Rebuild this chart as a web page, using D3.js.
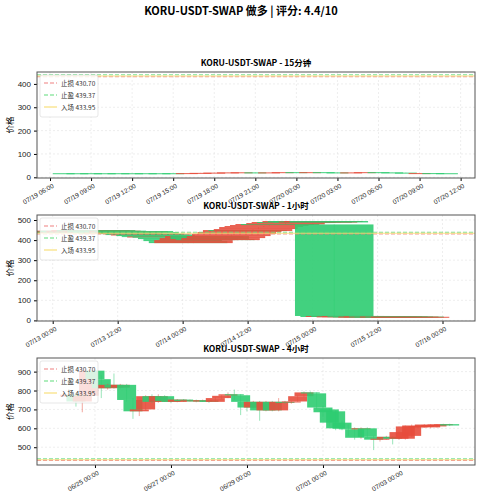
<!DOCTYPE html>
<html><head><meta charset="utf-8">
<script src="https://d3js.org/d3.v7.min.js"></script>
<style>body{margin:0;background:#fff;font-family:"Noto Sans CJK SC","DejaVu Sans",sans-serif}</style>
</head><body><div id="chart"></div>
<script>
var width = 482, height = 500;
var stopLoss = 430.70, takeProfit = 439.37, entry = 433.95;

// 15m panel (one candle per hour as read)
var p1Start = "2025-07-19T07:00";
var p1Open = [17.5,17.4,17.5,17.4,17.5,17.4,17.5,17.4,17.5, 17,18,19,20,21,21,20,21, 22,21,22,21,20,21,22,21, 20,18,18,17.5];
var p1Close = [17,17,17,17,17,17,17,17,17, 18,19,20,21,21.5,20,21,22, 21,22,21,20,21,22,21,20, 18,18,17.5,17];

// 1h panel
var p2Start = "2025-07-13T00:00";
var p2Close = [440,445,438,442,447,440, 445,450,443,447,440,435, 430,438,445,440,432,425, 428,420,415,418,412,405,
  395,385,400,410,420,405, 400,410,420,430,440,450, 445,455,465,470,475,480, 478,485,490,488,495,492,
  490,492,495,488,22, 21,22,20,20,21,20,19,19,20,19,18,19,18,18];
var p2Open = [438,440,445,438,442,447, 440,445,450,443,447,440, 435,430,438,445,440,432, 425,428,420,415,418,412,
  405,395,385,400,410,420, 405,400,410,420,430,440, 450,445,455,465,470,475, 480,478,485,490,488,495,
  492,490,492,495,478, 22,21,22,20,20,21,20,19,19,20,19,18,19,18];

// 4h panel
var p3Start = "2025-06-24T08:00";
var p3Open = [768,778,742,772,905,860,812,830,815,830,750,690,700,770,740,770,745,740,752,745,748,742,748,740,760,772,780,775,740,710,740,695,740,695,740,738,742,770,790,785,710,700,690,630,600,595,598,600,555,540,545,555,545,545,560,605,608,605,610,620,622];
var p3Close = [778,742,772,905,860,812,830,815,830,750,690,700,770,740,770,745,740,752,745,748,742,748,740,760,772,780,775,740,710,740,695,740,695,740,738,742,770,790,785,710,685,630,600,598,595,550,600,555,540,545,555,545,580,610,615,612,620,618,620,622,615];
var p3High = [785,790,780,910,910,880,835,890,835,835,760,705,775,780,780,775,755,755,755,752,752,752,750,765,775,790,805,780,745,745,745,745,745,760,745,745,775,795,795,790,720,705,695,640,620,605,605,605,560,548,560,560,585,615,620,615,622,622,622,624,624];
var p3Low = [760,715,685,768,855,760,805,810,810,740,650,665,695,735,735,740,735,738,740,742,738,740,735,740,755,760,750,670,690,705,640,690,690,690,730,730,740,765,770,700,660,610,590,590,560,540,545,550,485,530,540,515,540,540,555,600,605,600,605,615,612];

var parse = d3.timeParse("%Y-%m-%dT%H:%M");
var HOUR = 3600e3;

var svg = d3.select("#chart").append("svg").attr("width", width).attr("height", height);

svg.append("text").attr("x", 241).attr("y", 15).attr("text-anchor", "middle")
  .attr("font-size", 11).attr("font-weight", "bold").text("KORU-USDT-SWAP 做多 | 评分: 4.4/10");

function panel(cfg) {
  var x = d3.scaleTime().domain(cfg.xDomain).range([37, 475]);
  var y = d3.scaleLinear().domain(cfg.yDomain).range([cfg.bottom, cfg.top]);
  var g = svg.append("g");
  var clipId = "clip" + cfg.top;
  g.append("clipPath").attr("id", clipId).append("rect")
    .attr("x", 37).attr("y", cfg.top).attr("width", 438).attr("height", cfg.bottom - cfg.top);

  svg.append("text").attr("x", 256).attr("y", cfg.top - 6).attr("text-anchor", "middle")
    .attr("font-size", 8.5).attr("font-weight", "bold").text(cfg.title);

  // grid
  g.append("g").selectAll("line").data(cfg.yTicks).enter().append("line")
    .attr("x1", 37).attr("x2", 475).attr("y1", d => y(d)).attr("y2", d => y(d))
    .attr("stroke", "#ddd").attr("stroke-width", 0.5).attr("stroke-dasharray", "2,2");
  g.append("g").selectAll("line").data(cfg.xTicks).enter().append("line")
    .attr("y1", cfg.top).attr("y2", cfg.bottom).attr("x1", d => x(d)).attr("x2", d => x(d))
    .attr("stroke", "#ddd").attr("stroke-width", 0.5).attr("stroke-dasharray", "2,2");

  var t0 = parse(cfg.start);
  var data = cfg.open.map(function(o, i) {
    var c = cfg.close[i];
    return {t: new Date(+t0 + i * cfg.step * HOUR), o: o, c: c,
      h: cfg.high ? cfg.high[i] : Math.max(o, c), l: cfg.low ? cfg.low[i] : Math.min(o, c)};
  });
  var plot = g.append("g").attr("clip-path", "url(#" + clipId + ")");
  var half = cfg.bodyHours / 2 * HOUR;
  data.forEach(function(d) {
    var col = d.c >= d.o ? "#e74c3c" : "#2ecc71";
    var xc = x(d.t);
    plot.append("line").attr("x1", xc).attr("x2", xc).attr("y1", y(d.h)).attr("y2", y(d.l))
      .attr("stroke", col).attr("stroke-width", 0.8).attr("opacity", 0.6);
    var x0 = x(new Date(+d.t - half)), x1 = x(new Date(+d.t + half));
    var yt = y(Math.max(d.o, d.c)), yb = y(Math.min(d.o, d.c));
    plot.append("rect").attr("x", x0).attr("width", x1 - x0)
      .attr("y", yt).attr("height", Math.max(1, yb - yt)).attr("fill", col).attr("opacity", 0.9);
  });

  var lines = [
    {v: stopLoss, c: "#f08080", dash: "4,2", label: "止损 430.70"},
    {v: takeProfit, c: "#5fdc7a", dash: "4,2", label: "止盈 439.37"},
    {v: entry, c: "#f7dc6f", dash: null, label: "入场 433.95"}
  ];
  lines.forEach(function(l) {
    if (l.v < cfg.yDomain[0] || l.v > cfg.yDomain[1]) return;
    plot.append("line").attr("x1", 37).attr("x2", 475).attr("y1", y(l.v)).attr("y2", y(l.v))
      .attr("stroke", l.c).attr("stroke-width", 1.1).attr("stroke-dasharray", l.dash).attr("opacity", 0.8);
  });

  // legend
  var lg = g.append("g").attr("transform", "translate(40," + (cfg.top + 3) + ")");
  lg.append("rect").attr("width", 58).attr("height", 42).attr("rx", 2)
    .attr("fill", "#fff").attr("fill-opacity", 0.8).attr("stroke", "#ccc").attr("stroke-width", 0.5);
  lines.forEach(function(l, i) {
    var yy = 8 + i * 12;
    lg.append("line").attr("x1", 4).attr("x2", 17).attr("y1", yy).attr("y2", yy)
      .attr("stroke", l.c).attr("stroke-width", 1.1).attr("stroke-dasharray", l.dash);
    lg.append("text").attr("x", 21).attr("y", yy + 2.5).attr("font-size", 6.5).attr("fill", "#333").text(l.label);
  });

  // axes
  var ya = g.append("g").attr("transform", "translate(37,0)")
    .call(d3.axisLeft(y).tickValues(cfg.yTicks).tickSize(3).tickFormat(d3.format("d")));
  ya.selectAll("text").attr("font-size", 8).attr("fill", "#222");
  ya.select(".domain").remove();
  var xa = g.append("g").attr("transform", "translate(0," + cfg.bottom + ")")
    .call(d3.axisBottom(x).tickValues(cfg.xTicks).tickSize(3).tickFormat(d3.timeFormat(cfg.fmt)));
  xa.select(".domain").remove();
  xa.selectAll("text").attr("font-size", 6.5).attr("fill", "#222").attr("text-anchor", "end")
    .attr("transform", "rotate(-30)").attr("dx", "-0.2em").attr("dy", "0.6em");

  g.append("rect").attr("x", 37).attr("y", cfg.top).attr("width", 438).attr("height", cfg.bottom - cfg.top)
    .attr("fill", "none").attr("stroke", "#555").attr("stroke-width", 1);
  svg.append("text").attr("transform", "translate(13," + ((cfg.top + cfg.bottom) / 2) + ")rotate(-90)")
    .attr("text-anchor", "middle").attr("font-size", 8.5).text("价格");
}

function hoursFrom(s, h) { return new Date(+parse(s) + h * HOUR); }
function range(s, stepH, n) { var a = []; for (var i = 0; i < n; i++) a.push(hoursFrom(s, i * stepH)); return a; }

panel({title: "KORU-USDT-SWAP - 15分钟", top: 72, bottom: 178,
  xDomain: [hoursFrom("2025-07-19T06:00", -0.95), hoursFrom("2025-07-20T12:00", 1.05)],
  yDomain: [-3, 451], yTicks: [0, 100, 200, 300, 400],
  xTicks: range("2025-07-19T06:00", 3, 11), fmt: "%m/%d %H:%M",
  start: p1Start, step: 1, open: p1Open, close: p1Close, bodyHours: 1.6});

panel({title: "KORU-USDT-SWAP - 1小时", top: 215, bottom: 321,
  xDomain: [hoursFrom("2025-07-13T00:00", -2.9), hoursFrom("2025-07-13T00:00", 78)],
  yDomain: [-3, 525], yTicks: [0, 100, 200, 300, 400, 500],
  xTicks: range("2025-07-13T00:00", 12, 7), fmt: "%m/%d %H:%M",
  start: p2Start, step: 1, open: p2Open, close: p2Close, bodyHours: 14.5});

panel({title: "KORU-USDT-SWAP - 4小时", top: 358, bottom: 465,
  xDomain: [hoursFrom("2025-06-25T00:00", -36.6), hoursFrom("2025-06-25T00:00", 240)],
  yDomain: [406, 972], yTicks: [500, 600, 700, 800, 900],
  xTicks: range("2025-06-25T00:00", 48, 5), fmt: "%m/%d %H:%M",
  start: p3Start, step: 4, open: p3Open, close: p3Close, high: p3High, low: p3Low, bodyHours: 12});
</script></body></html>
